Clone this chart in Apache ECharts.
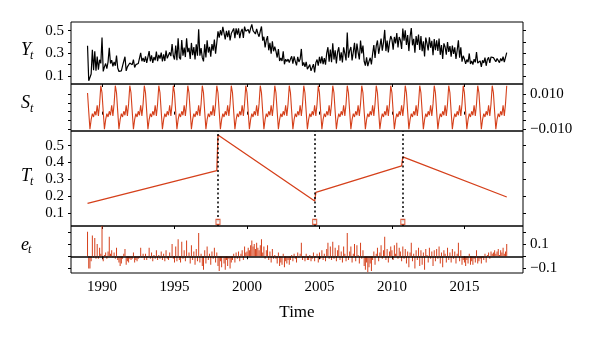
<!DOCTYPE html>
<html>
<head>
<meta charset="utf-8">
<script src="https://cdn.jsdelivr.net/npm/echarts@6/dist/echarts.min.js"></script>
<style>html,body{margin:0;padding:0;background:#fff}#c{width:600px;height:340px}</style>
</head>
<body>
<div id="c"></div>
<script>
// ---- data (monthly series, Jan 1989 - Dec 2017) ----
const startYear = 1989;
const frequency = 12;
const observed = [
 .367,.057,.05,.118,.331,.151,.318,.146,.271,.156,.243,.211,
 .44,.14,.18,.21,.165,.225,.35,.21,.24,.185,.225,.19,
 .28,.17,.14,.125,.145,.19,.23,.27,.145,.18,.17,.215,
 .20,.20,.245,.175,.20,.19,.21,.225,.305,.23,.26,.225,
 .273,.215,.227,.32,.23,.283,.215,.267,.238,.315,.23,.287,
 .254,.306,.228,.29,.232,.324,.256,.247,.309,.275,.382,.279,
 .246,.368,.24,.432,.264,.246,.417,.279,.35,.267,.434,.311,
 .348,.25,.392,.283,.355,.247,.379,.28,.512,.279,.346,.262,
 .229,.381,.263,.415,.307,.358,.27,.382,.324,.421,.297,.394,
 .494,.439,.504,.459,.534,.479,.424,.499,.444,.504,.414,.475,
 .485,.52,.435,.52,.465,.52,.435,.49,.516,.436,.536,.496,
 .496,.511,.476,.521,.556,.501,.516,.471,.516,.476,.447,.497,
 .537,.412,.447,.352,.417,.452,.327,.392,.297,.407,.318,.358,
 .318,.263,.338,.233,.258,.233,.318,.203,.248,.228,.249,.219,
 .249,.274,.209,.274,.229,.194,.269,.224,.249,.339,.19,.22,
 .18,.225,.16,.165,.20,.145,.16,.205,.131,.217,.245,.192,
 .269,.211,.273,.205,.258,.20,.302,.354,.226,.333,.221,.388,
 .245,.327,.21,.312,.354,.236,.308,.22,.353,.30,.237,.484,
 .262,.324,.356,.238,.311,.393,.255,.387,.309,.246,.413,.30,
 .368,.23,.192,.265,.187,.229,.261,.203,.296,.373,.26,.367,
 .414,.296,.359,.431,.323,.395,.507,.32,.412,.309,.396,.453,
 .421,.333,.445,.387,.48,.352,.444,.416,.338,.519,.411,.503,
 .375,.462,.32,.447,.524,.371,.428,.305,.453,.375,.467,.329,
 .452,.319,.406,.273,.44,.388,.325,.442,.349,.41,.284,.426,
 .328,.415,.322,.43,.287,.374,.251,.388,.356,.288,.40,.312,
 .364,.271,.369,.296,.353,.25,.327,.415,.262,.354,.226,.278,
 .25,.207,.245,.222,.299,.206,.233,.201,.248,.22,.312,.214,
 .226,.233,.18,.238,.215,.262,.19,.246,.264,.216,.268,.26,
 .262,.269,.226,.254,.271,.218,.255,.232,.27,.222,.234,.306
];
const seasonal = [
 .0109,0,-.0103,-.0047,-.0012,-.0031,.0002,-.0021,.0037,-.0025,.0045,.0151,
 .0109,0,-.0103,-.0047,-.0012,-.0031,.0002,-.0021,.0037,-.0025,.0045,.0151,
 .0109,0,-.0103,-.0047,-.0012,-.0031,.0002,-.0021,.0037,-.0025,.0045,.0151,
 .0109,0,-.0103,-.0047,-.0012,-.0031,.0002,-.0021,.0037,-.0025,.0045,.0151,
 .0109,0,-.0103,-.0047,-.0012,-.0031,.0002,-.0021,.0037,-.0025,.0045,.0151,
 .0109,0,-.0103,-.0047,-.0012,-.0031,.0002,-.0021,.0037,-.0025,.0045,.0151,
 .0109,0,-.0103,-.0047,-.0012,-.0031,.0002,-.0021,.0037,-.0025,.0045,.0151,
 .0109,0,-.0103,-.0047,-.0012,-.0031,.0002,-.0021,.0037,-.0025,.0045,.0151,
 .0109,0,-.0103,-.0047,-.0012,-.0031,.0002,-.0021,.0037,-.0025,.0045,.0151,
 .0109,0,-.0103,-.0047,-.0012,-.0031,.0002,-.0021,.0037,-.0025,.0045,.0151,
 .0109,0,-.0103,-.0047,-.0012,-.0031,.0002,-.0021,.0037,-.0025,.0045,.0151,
 .0109,0,-.0103,-.0047,-.0012,-.0031,.0002,-.0021,.0037,-.0025,.0045,.0151,
 .0109,0,-.0103,-.0047,-.0012,-.0031,.0002,-.0021,.0037,-.0025,.0045,.0151,
 .0109,0,-.0103,-.0047,-.0012,-.0031,.0002,-.0021,.0037,-.0025,.0045,.0151,
 .0109,0,-.0103,-.0047,-.0012,-.0031,.0002,-.0021,.0037,-.0025,.0045,.0151,
 .0109,0,-.0103,-.0047,-.0012,-.0031,.0002,-.0021,.0037,-.0025,.0045,.0151,
 .0109,0,-.0103,-.0047,-.0012,-.0031,.0002,-.0021,.0037,-.0025,.0045,.0151,
 .0109,0,-.0103,-.0047,-.0012,-.0031,.0002,-.0021,.0037,-.0025,.0045,.0151,
 .0109,0,-.0103,-.0047,-.0012,-.0031,.0002,-.0021,.0037,-.0025,.0045,.0151,
 .0109,0,-.0103,-.0047,-.0012,-.0031,.0002,-.0021,.0037,-.0025,.0045,.0151,
 .0109,0,-.0103,-.0047,-.0012,-.0031,.0002,-.0021,.0037,-.0025,.0045,.0151,
 .0109,0,-.0103,-.0047,-.0012,-.0031,.0002,-.0021,.0037,-.0025,.0045,.0151,
 .0109,0,-.0103,-.0047,-.0012,-.0031,.0002,-.0021,.0037,-.0025,.0045,.0151,
 .0109,0,-.0103,-.0047,-.0012,-.0031,.0002,-.0021,.0037,-.0025,.0045,.0151,
 .0109,0,-.0103,-.0047,-.0012,-.0031,.0002,-.0021,.0037,-.0025,.0045,.0151,
 .0109,0,-.0103,-.0047,-.0012,-.0031,.0002,-.0021,.0037,-.0025,.0045,.0151,
 .0109,0,-.0103,-.0047,-.0012,-.0031,.0002,-.0021,.0037,-.0025,.0045,.0151,
 .0109,0,-.0103,-.0047,-.0012,-.0031,.0002,-.0021,.0037,-.0025,.0045,.0151,
 .0109,0,-.0103,-.0047,-.0012,-.0031,.0002,-.0021,.0037,-.0025,.0045,.0151
];
const residual = [
 .20,-.10,-.10,-.04,.17,-.01,.15,-.02,.10,-.02,.07,.02,
 .25,-.04,.01,.03,-.02,.04,.16,.02,.05,-.01,.03,-.02,
 .07,-.03,-.05,-.08,-.06,-.02,.02,.06,-.07,-.04,-.05,-.02,
 -.03,-.02,.03,-.05,-.03,-.04,-.02,-.01,.07,-.01,.02,-.03,
 .02,-.03,-.01,.07,-.02,.03,-.04,.01,-.02,.05,-.03,.01,
 -.02,.04,-.03,.02,-.04,.05,-.02,-.03,.03,-.01,.10,-.02,
 -.05,.08,-.04,.14,-.03,-.05,.12,-.02,.05,-.04,.13,-.01,
 .03,-.06,.09,-.03,.04,-.07,.06,-.04,.19,-.05,.02,-.08,
 -.11,.05,-.06,.08,-.03,.02,-.07,.04,-.02,.07,-.05,.03,
 -.08,-.12,-.04,-.09,-.01,-.06,-.11,-.03,-.08,-.02,-.10,-.05,
 -.03,.02,-.05,.03,-.02,.04,-.04,.02,.05,-.03,.08,.03,
 .04,.07,.05,.09,.13,.08,.10,.06,.11,.07,.05,.09,
 .14,.03,.08,-.02,.05,.09,-.03,.04,-.05,.06,-.02,.01,
 -.02,-.06,.03,-.08,-.05,-.07,.02,-.09,-.04,-.06,-.03,-.07,
 -.03,.01,-.04,.02,-.02,-.05,.03,-.01,.02,.11,-.03,-.01,
 -.04,.02,-.03,-.03,.01,-.04,-.02,.03,-.04,-.01,.02,-.05,
 .03,-.02,.05,-.03,.02,-.04,.06,.11,-.02,.08,-.03,.12,
 -.02,.07,-.04,.05,.09,-.03,.04,-.05,.08,.02,-.04,.19,
 -.03,.04,.08,-.05,.02,.10,-.04,.09,.01,-.06,.11,-.02,
 .05,-.08,-.11,-.05,-.13,-.09,-.06,-.12,-.03,.04,-.07,.02,
 .07,-.04,.03,.09,-.02,.05,.16,-.03,.06,-.05,.04,.08,
 .05,-.03,.09,.02,.11,-.02,.07,.04,-.04,.08,-.02,.06,
 -.06,.04,-.09,.03,.11,-.04,.02,-.10,.05,-.03,.07,-.08,
 .05,-.07,.03,-.11,.06,.01,-.05,.07,-.02,.04,-.08,.05,
 -.04,.06,-.02,.08,-.06,.03,-.09,.05,.02,-.05,.07,-.03,
 .03,-.05,.06,-.02,.04,-.06,.02,.11,-.04,.05,-.07,-.03,
 -.05,-.08,-.03,-.06,.02,-.07,-.04,-.07,-.02,-.05,.05,-.06,
 -.04,-.02,-.06,-.01,-.03,.02,-.05,.01,.03,-.02,.04,.02,
 .03,.05,.02,.04,.06,.01,.05,.03,.07,.02,.04,.10
];
// piecewise-linear trend, read at segment ends
const trendTime  = [1989.0, 1997.92, 1998.0, 2004.67, 2004.75, 2010.67, 2010.75, 2017.92];
const trendValue = [0.156, 0.351, 0.564, 0.170, 0.222, 0.380, 0.434, 0.194];
const breakTimes = [1998.0, 2004.67, 2010.75];
const breakMarkValue = 0.046;
const xTicks = [1990, 1995, 2000, 2005, 2010, 2015];
const yTicksObs = [0.1, 0.2, 0.3, 0.4, 0.5];
const yLabelsObs = [0.1, 0.3, 0.5];
const sTicks = [-0.01, -0.005, 0, 0.005, 0.01];
const sLabels = [-0.01, 0.01];
const tTicks = [0.1, 0.2, 0.3, 0.4, 0.5];
const eTicks = [-0.1, 0, 0.1, 0.2];
const eLabels = [-0.1, 0.1];

// ---- chart ----
const RED = '#d5401b';
const FONT = 'Liberation Serif';
const time = observed.map((_, i) => startYear + i / frequency);
const zip = (xs, ys) => xs.map((x, i) => [x, ys[i]]);
const fmt = d => v => (v < 0 ? '\u2212' : '') + Math.abs(v).toFixed(d);

const grids = [
  {top: 22, height: 62},
  {top: 84, height: 47},
  {top: 131, height: 95},
  {top: 226, height: 47}
].map(g => Object.assign({left: 71, right: 77, show: true, borderColor: '#000', borderWidth: 1, backgroundColor: 'transparent'}, g));

const labelStyle = {color: '#000', fontFamily: FONT, fontSize: 15};

const xAxes = [0, 1, 2, 3].map(i => ({
  type: 'value', gridIndex: i, min: 1987.86, max: 2019.04,
  axisLine: {show: false}, splitLine: {show: false},
  axisTick: {show: true, inside: false, length: 3, customValues: xTicks, lineStyle: {color: '#000', width: 1}},
  axisLabel: Object.assign({show: i === 3, customValues: xTicks, margin: 7, formatter: v => String(Math.round(v))}, labelStyle)
}));

function yAx(grid, pos, min, max, ticks, labels, formatter) {
  return {
    type: 'value', gridIndex: grid, position: pos, min: min, max: max,
    axisLine: {show: false}, splitLine: {show: false},
    axisTick: {show: true, inside: false, length: 3, customValues: ticks, lineStyle: {color: '#000', width: 1}},
    axisLabel: Object.assign({show: !!labels, customValues: labels || ticks, margin: 7, formatter: formatter}, labelStyle)
  };
}

const yAxes = [
  yAx(0, 'left', 0.029, 0.577, yTicksObs, yLabelsObs, fmt(1)),
  yAx(0, 'right', 0.029, 0.577, yTicksObs, null, fmt(1)),
  yAx(1, 'left', -0.0113, 0.0161, sTicks, null, fmt(3)),
  yAx(1, 'right', -0.0113, 0.0161, sTicks, sLabels, fmt(3)),
  yAx(2, 'left', 0.021, 0.588, tTicks, tTicks, fmt(1)),
  yAx(2, 'right', 0.021, 0.588, tTicks, null, fmt(1)),
  yAx(3, 'left', -0.137, 0.248, eTicks, null, fmt(1)),
  yAx(3, 'right', -0.137, 0.248, eTicks, eLabels, fmt(1))
];

function sym(x, y, big, small) {
  const it = {fontFamily: FONT, fontStyle: 'italic', fill: '#000'};
  return [
    {type: 'text', left: x, top: y - 10, style: Object.assign({text: big, fontSize: 18}, it)},
    {type: 'text', left: x + 9, top: y - 1, style: Object.assign({text: small, fontSize: 12}, it)}
  ];
}

const option = {
  animation: false,
  grid: grids,
  xAxis: xAxes,
  yAxis: yAxes,
  graphic: [].concat(
    sym(21, 51, 'Y', 't'),
    sym(21, 104, 'S', 't'),
    sym(21, 177, 'T', 't'),
    [{type: 'text', left: 21, top: 236, style: {text: 'e', fontSize: 18, fontFamily: FONT, fontStyle: 'italic', fill: '#000'}},
     {type: 'text', left: 28, top: 244, style: {text: 't', fontSize: 12, fontFamily: FONT, fontStyle: 'italic', fill: '#000'}},
     {type: 'text', x: 297, y: 313, style: {text: 'Time', fontSize: 17, fontFamily: FONT, fill: '#000', align: 'center', verticalAlign: 'middle'}}]
  ),
  series: [
    {type: 'line', xAxisIndex: 0, yAxisIndex: 0, data: zip(time, observed), showSymbol: false, silent: true,
     lineStyle: {color: '#000', width: 1.2}},
    {type: 'line', xAxisIndex: 1, yAxisIndex: 2, data: zip(time, seasonal), showSymbol: false, silent: true,
     lineStyle: {color: RED, width: 1.1}},
    {type: 'line', xAxisIndex: 2, yAxisIndex: 4, data: zip(trendTime, trendValue), showSymbol: false, silent: true,
     lineStyle: {color: RED, width: 1.3},
     markLine: {symbol: 'none', silent: true, label: {show: false},
       lineStyle: {type: [2, 2.5], color: '#000', width: 1.5},
       data: breakTimes.map(b => ({xAxis: b}))}},
    {type: 'scatter', xAxisIndex: 2, yAxisIndex: 4, data: breakTimes.map(b => [b, breakMarkValue]),
     symbol: 'rect', symbolSize: [4, 5], silent: true, z: 5,
     itemStyle: {color: '#fff', borderColor: RED, borderWidth: 1.2}},
    {type: 'bar', xAxisIndex: 3, yAxisIndex: 6, data: zip(time, residual), barWidth: 1, silent: true,
     itemStyle: {color: RED},
     markLine: {symbol: 'none', silent: true, label: {show: false},
       lineStyle: {type: 'solid', color: '#000', width: 1.5},
       data: [{yAxis: 0}]}}
  ]
};
echarts.init(document.getElementById('c'), null, {renderer: 'canvas'}).setOption(option);
</script>
</body>
</html>
